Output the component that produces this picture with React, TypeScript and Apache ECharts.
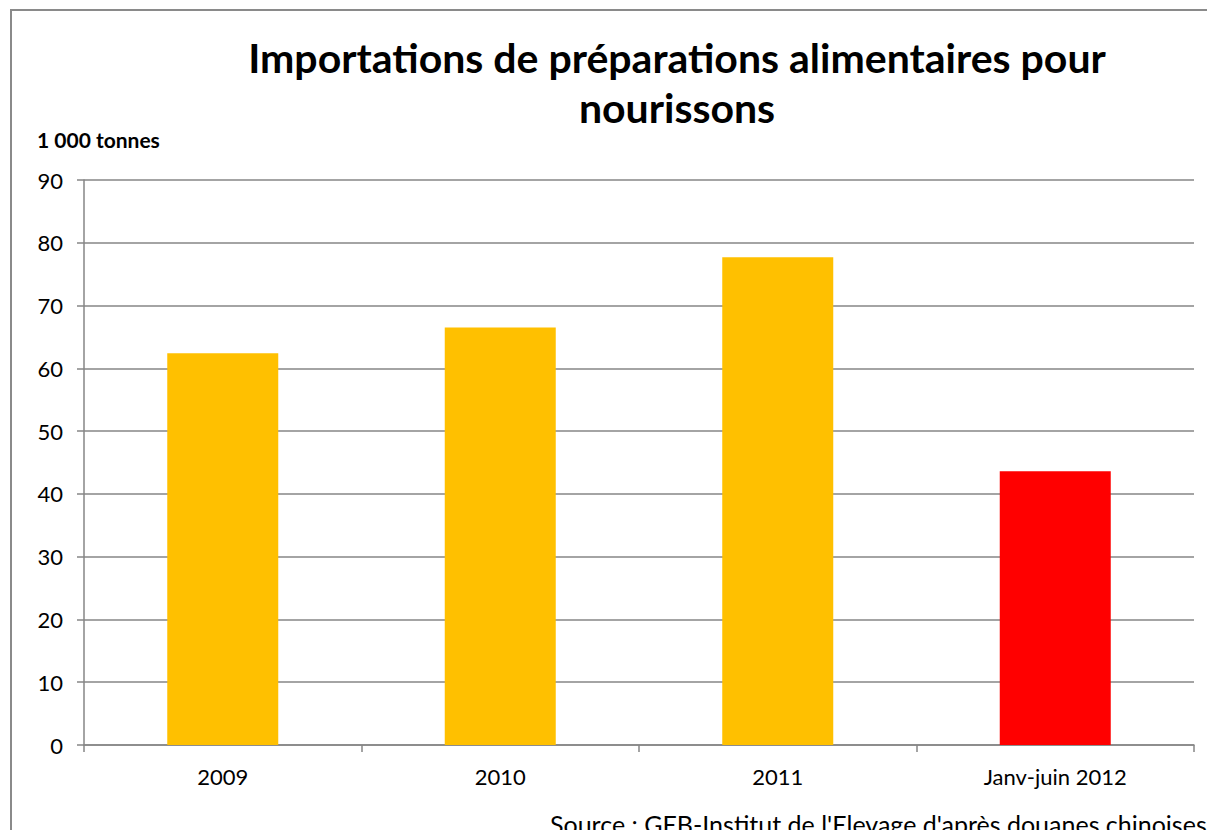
import React, { useEffect, useRef } from "react";
import * as echarts from "echarts";

const categories = ["2009", "2010", "2011", "Janv-juin 2012"];
const values = [62.4, 66.5, 77.7, 43.6];
const barColors = ["#FFC000", "#FFC000", "#FFC000", "#FF0000"];
const yTicks = { min: 0, max: 90, interval: 10 };
const titleLines = ["Importations de préparations alimentaires pour", "nourissons"];
const unitLabel = "1 000 tonnes";
const sourceText = "Source : GEB-Institut de l'Elevage d'après douanes chinoises";

const FONT = "Lato, 'Open Sans', sans-serif";

export default function App() {
  const ref = useRef<HTMLDivElement>(null);
  useEffect(() => {
    document.body.style.margin = "0";
    const chart = echarts.init(ref.current!, undefined, { renderer: "svg" });
    chart.setOption({
      animation: false,
      backgroundColor: "#ffffff",
      grid: { left: 84, right: 13, top: 180, bottom: 85, containLabel: false },
      xAxis: {
        type: "category",
        data: categories,
        axisLine: { lineStyle: { color: "#868686", width: 1.5 } },
        axisTick: { show: true, alignWithLabel: false, length: 7, lineStyle: { color: "#868686", width: 1.5 } },
        axisLabel: { color: "#000", fontSize: 22, fontFamily: FONT, margin: 20 },
      },
      yAxis: {
        type: "value",
        min: yTicks.min,
        max: yTicks.max,
        interval: yTicks.interval,
        axisLine: { show: true, lineStyle: { color: "#868686", width: 1.5 } },
        axisTick: { show: true, length: 7, lineStyle: { color: "#868686", width: 1.5 } },
        axisLabel: { color: "#000", fontSize: 22, fontFamily: FONT, margin: 21 },
        splitLine: { show: true, lineStyle: { color: "#868686", width: 1.5 } },
      },
      series: [
        {
          type: "bar",
          barWidth: "40%",
          data: values.map((v, i) => ({ value: v, itemStyle: { color: barColors[i] } })),
        },
      ],
      graphic: [
        {
          type: "rect",
          shape: { x: 11, y: 10, width: 1230, height: 850 },
          style: { fill: "none", stroke: "#8a8a8a", lineWidth: 2 },
          silent: true,
        },
        {
          type: "text",
          x: 677,
          y: 57,
          style: {
            text: titleLines[0],
            font: `bold 41px ${FONT}`,
            fill: "#000",
            textAlign: "center",
            textVerticalAlign: "middle",
          },
        },
        {
          type: "text",
          x: 677,
          y: 107,
          style: {
            text: titleLines[1],
            font: `bold 41px ${FONT}`,
            fill: "#000",
            textAlign: "center",
            textVerticalAlign: "middle",
          },
        },
        {
          type: "text",
          x: 37,
          y: 139,
          style: {
            text: unitLabel,
            font: `bold 21px ${FONT}`,
            fill: "#000",
            textAlign: "left",
            textVerticalAlign: "middle",
          },
        },
        {
          type: "text",
          x: 550,
          y: 824,
          style: {
            text: sourceText,
            font: `25px ${FONT}`,
            fill: "#000",
            textAlign: "left",
            textVerticalAlign: "middle",
          },
        },
      ],
    });
    return () => chart.dispose();
  }, []);
  return <div ref={ref} style={{ width: 1207, height: 830 }} />;
}
